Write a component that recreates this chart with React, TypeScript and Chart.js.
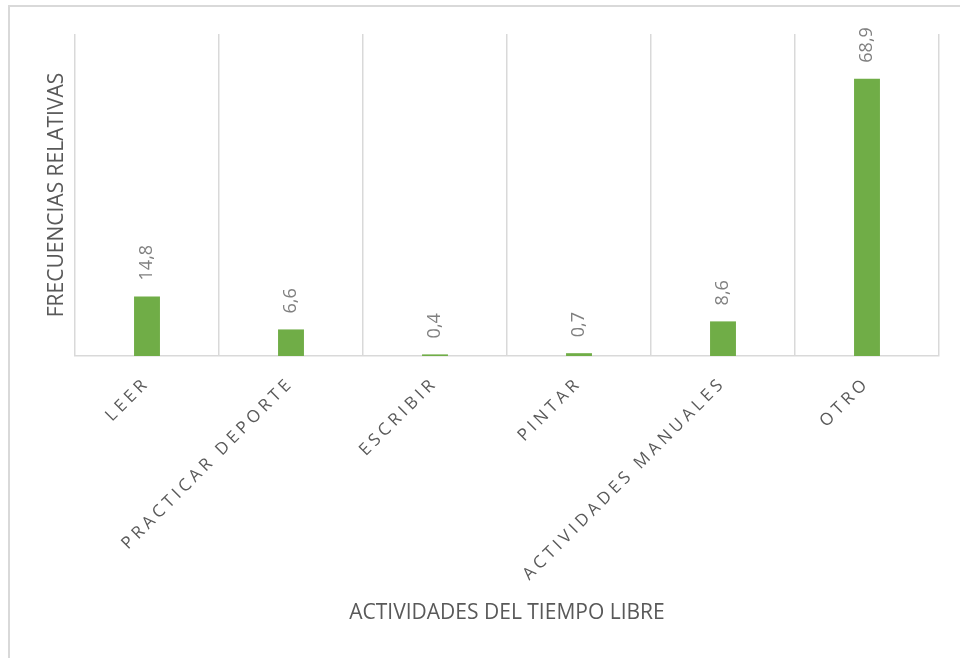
import React, { useEffect, useRef } from 'react';
import { Chart, registerables } from 'chart.js';
Chart.register(...registerables);

const categories = ['LEER', 'PRACTICAR DEPORTE', 'ESCRIBIR', 'PINTAR', 'ACTIVIDADES MANUALES', 'OTRO'];
const values = [14.8, 6.6, 0.4, 0.7, 8.6, 68.9];
const yTitle = 'FRECUENCIAS RELATIVAS';
const xTitle = 'ACTIVIDADES DEL TIEMPO LIBRE';
const yMin = 0;
const yMax = 80;

const FONT = '"Open Sans", "Noto Sans", sans-serif';

export default function App() {
  const ref = useRef<HTMLCanvasElement>(null);
  useEffect(() => {
    document.body.style.margin = '0';
    document.body.style.overflow = 'hidden';
    const canvas = ref.current!;

    const labelPlugin = {
      id: 'valueLabels',
      afterDatasetsDraw(chart: any) {
        const ctx = chart.ctx;
        const meta = chart.getDatasetMeta(0);
        ctx.save();
        ctx.font = `18px ${FONT}`;
        ctx.fillStyle = '#808080';
        ctx.textAlign = 'left';
        ctx.textBaseline = 'middle';
        meta.data.forEach((bar: any, i: number) => {
          const v = chart.data.datasets[0].data[i] as number;
          ctx.save();
          ctx.translate(bar.x, bar.y - 16);
          ctx.rotate(-Math.PI / 2);
          ctx.fillText(v.toFixed(1).replace('.', ','), 0, 0);
          ctx.restore();
        });
        ctx.restore();
      },
    };

    const spacingPlugin = {
      id: 'tickSpacing',
      beforeDraw(chart: any) {
        const sc = chart.scales.x as any;
        if (!sc.__patched) {
          const orig = sc.drawLabels;
          sc.drawLabels = function (area: any) {
            const ctx = this.ctx;
            ctx.save();
            ctx.letterSpacing = '4px';
            orig.call(this, area);
            ctx.restore();
          };
          sc.__patched = true;
        }
      },
    };

    const chart = new Chart(canvas, {
      type: 'bar',
      data: {
        labels: categories,
        datasets: [
          {
            data: values,
            backgroundColor: '#70ad47',
            borderWidth: 0,
            barPercentage: 0.18,
            categoryPercentage: 1,
          },
        ],
      },
      options: {
        responsive: false,
        animation: false,
        layout: { padding: { left: 0, top: 34, right: 21, bottom: 32.4 } },
        plugins: { legend: { display: false }, tooltip: { enabled: false } },
        scales: {
          x: {
            grid: { display: true, color: '#d9d9d9', lineWidth: 1.5, drawTicks: false, offset: true },
            border: { display: true, color: '#d9d9d9', width: 1.5 },
            ticks: {
              color: '#595959',
              font: { family: FONT, size: 17 },
              minRotation: 45,
              maxRotation: 45,
              padding: 17,
              autoSkip: false,
            },
            title: {
              display: true,
              text: xTitle,
              color: '#595959',
              font: { family: FONT, size: 21, lineHeight: 1.2 },
              padding: 0,
            },
            afterFit(scale: any) {
              scale.height = 269.6;
            },
          },
          y: {
            min: yMin,
            max: yMax,
            grid: { display: false },
            border: { display: false },
            ticks: { display: false },
            title: {
              display: true,
              text: yTitle,
              color: '#595959',
              font: { family: FONT, size: 21, lineHeight: 1.2 },
              padding: { top: 44.4, bottom: 0 },
            },
            afterFit(scale: any) {
              scale.width = 75;
            },
          },
        },
      },
      plugins: [labelPlugin, spacingPlugin],
    });
    return () => chart.destroy();
  }, []);

  return (
    <div style={{ position: 'relative', width: 960, height: 658, overflow: 'hidden', background: '#fff' }}>
      <div
        style={{
          position: 'absolute',
          left: 8,
          top: 5,
          width: 980,
          height: 700,
          borderLeft: '2px solid #d9d9d9',
          borderTop: '2px solid #d9d9d9',
          boxSizing: 'border-box',
        }}
      />
      <canvas ref={ref} width={960} height={658} style={{ position: 'absolute', left: 0, top: 0, display: 'block' }} />
    </div>
  );
}
